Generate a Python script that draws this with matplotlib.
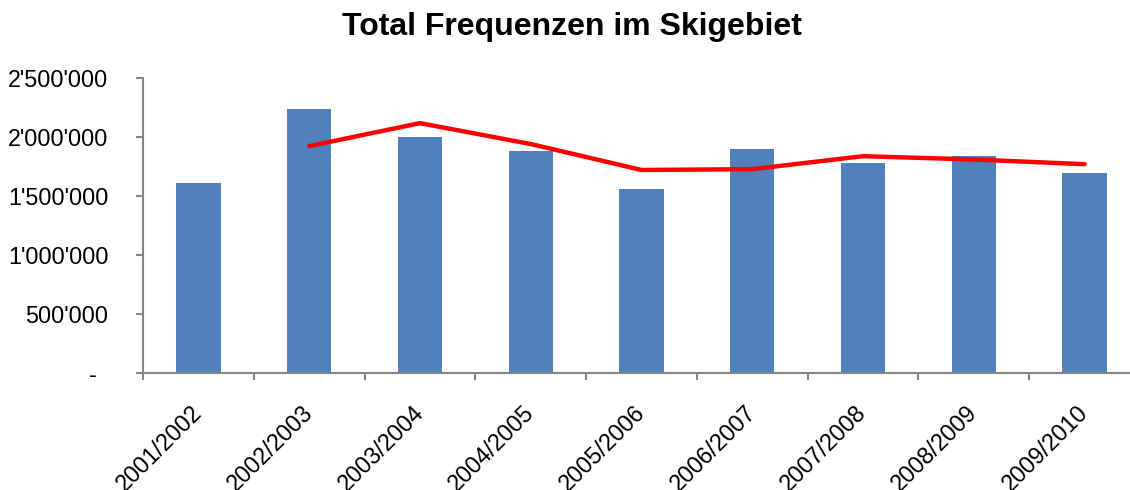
import matplotlib
matplotlib.use("Agg")
import matplotlib.pyplot as plt
from matplotlib.ticker import FuncFormatter, FixedLocator
import numpy as np

plt.rcParams['font.family'] = ['Liberation Sans', 'DejaVu Sans']

seasons = ["2001/2002", "2002/2003", "2003/2004", "2004/2005", "2005/2006",
           "2006/2007", "2007/2008", "2008/2009", "2009/2010"]
frequenzen = [1613000, 2237000, 2003000, 1884000, 1562000,
              1898000, 1780000, 1844000, 1700000]
trend = [np.nan, 1925000, 2120000, 1943000, 1723000,
         1730000, 1840000, 1812000, 1772000]
yticks = [0, 500000, 1000000, 1500000, 2000000, 2500000]
title = "Total Frequenzen im Skigebiet"

W, H = 1130, 490
fig = plt.figure(figsize=(W / 100, H / 100), dpi=100)
ax = fig.add_axes([143 / W, (H - 373.3) / H, 997 / W, 295 / H])

x = np.arange(len(seasons))
ax.bar(x, frequenzen, width=0.4, color="#4F81BD", zorder=2)
ax.plot(x, trend, color="#FF0000", linewidth=3.2, zorder=3, solid_capstyle="round")

ax.set_xlim(-0.5, len(seasons) - 0.5)
ax.set_ylim(0, 2500000)

gray = "#868686"
for s in ["top", "right"]:
    ax.spines[s].set_visible(False)
for s in ["left", "bottom"]:
    ax.spines[s].set_color(gray)
    ax.spines[s].set_linewidth(1.5)

def fmt(v, pos):
    if v == 0:
        return "-\u2002"
    return f"{int(v):,}".replace(",", "'")

ax.set_yticks(yticks)
ax.yaxis.set_major_formatter(FuncFormatter(fmt))
ax.tick_params(axis="y", direction="out", length=5, width=1.5, color=gray,
               labelsize=16.8, pad=20, labelcolor="black")

ax.set_xticks(x)
ax.set_xticklabels(seasons, rotation=45, ha="right", va="center",
                   rotation_mode="anchor")
ax.tick_params(axis="x", which="major", length=0, labelsize=16.8, pad=26)
ax.xaxis.set_minor_locator(FixedLocator(np.arange(-0.5, len(seasons), 1.0)))
ax.tick_params(axis="x", which="minor", direction="out", length=5, width=1.5,
               color=gray)

fig.text(572 / W, 1 - 27 / H, title, ha="center", va="center",
         fontsize=23, fontweight="bold")

fig.savefig("out.png", dpi=100)
